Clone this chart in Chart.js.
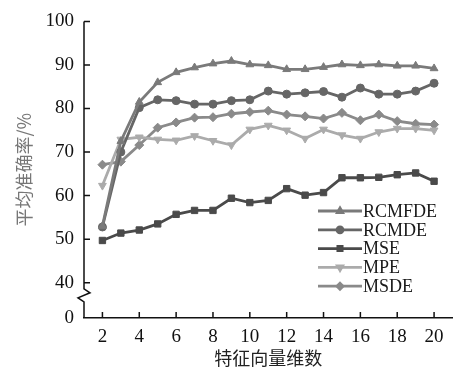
<!DOCTYPE html>
<html>
<head>
<meta charset="utf-8">
<script src="https://cdn.jsdelivr.net/npm/chart.js@4/dist/chart.umd.min.js"></script>
<style>
  html, body { margin: 0; padding: 0; background: #fff; }
  #wrap { width: 458px; height: 374px; }
</style>
</head>
<body>
<div id="wrap"><canvas id="myChart" width="458" height="374"></canvas></div>
<script>
// feature vector dimensions
const dims = [2, 3, 4, 5, 6, 7, 8, 9, 10, 11, 12, 13, 14, 15, 16, 17, 18, 19, 20];

const rcmfde = [53.0, 72.5, 81.5, 86.0, 88.3, 89.4, 90.3, 90.9, 90.1, 89.9, 89.0, 89.0, 89.5, 90.1, 89.9, 90.1, 89.8, 89.8, 89.2];
const rcmde  = [52.8, 70.0, 80.2, 82.0, 81.8, 81.0, 81.0, 81.8, 82.0, 84.0, 83.3, 83.6, 83.9, 82.6, 84.7, 83.3, 83.3, 84.0, 85.8];
const mse    = [49.7, 51.4, 52.1, 53.5, 55.7, 56.6, 56.6, 59.4, 58.4, 58.9, 61.6, 60.1, 60.7, 64.1, 64.1, 64.2, 64.8, 65.2, 63.3];
const mpe    = [62.3, 72.9, 73.4, 72.9, 72.7, 73.7, 72.6, 71.6, 75.2, 76.1, 75.0, 73.1, 75.2, 73.9, 73.1, 74.6, 75.4, 75.4, 75.0];
const msde   = [67.1, 67.8, 71.6, 75.6, 76.8, 77.9, 78.0, 78.8, 79.2, 79.5, 78.6, 78.2, 77.7, 79.0, 77.3, 78.6, 77.1, 76.5, 76.3];

const yTickValues = [40, 50, 60, 70, 80, 90, 100];
const xTickValues = [2, 4, 6, 8, 10, 12, 14, 16, 18, 20];
const yBottom = 31.9;  // shown as "0" below the axis break

function pts(arr) {
  return arr.map((v, i) => ({ x: dims[i], y: v }));
}

function ds(label, arr, color, style, rot) {
  return {
    label: label,
    data: pts(arr),
    borderColor: color,
    backgroundColor: color,
    borderWidth: 2.8,
    pointStyle: style,
    pointRotation: rot || 0,
    pointRadius: style === 'circle' ? 4 : 4.5,
    pointBorderWidth: 1,
    tension: 0
  };
}

const serif = "'Liberation Serif', 'DejaVu Serif', serif";
const cjk = "'Noto Sans CJK SC', sans-serif";

// axis break, inner ticks and the legend
const extras = {
  id: 'extras',
  afterDraw(chart) {
    const ctx = chart.ctx;
    const xs = chart.scales.x, ys = chart.scales.y;
    const left = chart.chartArea.left;
    const bottom = chart.chartArea.bottom;
    ctx.save();
    ctx.strokeStyle = '#111';
    ctx.lineWidth = 1.5;

    // y axis with zigzag break
    const yTop = ys.getPixelForValue(100);
    const brk = ys.getPixelForValue(37);
    ctx.beginPath();
    ctx.moveTo(left, yTop);
    ctx.lineTo(left, brk - 7);
    ctx.lineTo(left + 6, brk - 3);
    ctx.lineTo(left - 6, brk + 2);
    ctx.lineTo(left, brk + 6);
    ctx.lineTo(left, bottom);
    ctx.stroke();

    // inner tick marks
    ctx.beginPath();
    yTickValues.forEach(v => {
      const p = ys.getPixelForValue(v);
      ctx.moveTo(left, p);
      ctx.lineTo(left + 6, p);
    });
    xTickValues.forEach(v => {
      const p = xs.getPixelForValue(v);
      ctx.moveTo(p, bottom);
      ctx.lineTo(p, bottom - 6);
    });
    ctx.stroke();

    // legend
    const lx = 318, ly = 211, step = 18.8;
    chart.data.datasets.forEach((d, i) => {
      const y = ly + i * step;
      ctx.strokeStyle = d.borderColor;
      ctx.lineWidth = 2.8;
      ctx.beginPath();
      ctx.moveTo(lx, y);
      ctx.lineTo(lx + 44, y);
      ctx.stroke();
      Chart.helpers.drawPoint(ctx, {
        pointStyle: d.pointStyle, rotation: d.pointRotation, radius: 3, borderWidth: 1
      }, lx + 22, y);
      ctx.fillStyle = d.borderColor;
      ctx.fill();
      ctx.fillStyle = '#1a1a1a';
      ctx.font = '18px ' + serif;
      ctx.textBaseline = 'middle';
      ctx.textAlign = 'left';
      ctx.fillText(d.label, lx + 45, y + 1);
    });
    ctx.restore();
  }
};

new Chart('myChart', {
  type: 'line',
  data: {
    datasets: [
      ds('RCMFDE', rcmfde, '#7a7a7a', 'triangle'),
      ds('RCMDE', rcmde, '#666666', 'circle'),
      ds('MSE', mse, '#4a4a4a', 'rect'),
      ds('MPE', mpe, '#ababab', 'triangle', 180),
      ds('MSDE', msde, '#8a8a8a', 'rectRot')
    ]
  },
  plugins: [extras],
  options: {
    responsive: false,
    animation: false,
    layout: { padding: { top: 12, right: 0, bottom: 0, left: 0 } },
    plugins: {
      legend: { display: false },
      tooltip: { enabled: false }
    },
    scales: {
      x: {
        type: 'linear',
        min: 1,
        max: 21,
        afterBuildTicks: (scale) => { scale.ticks = xTickValues.map(v => ({ value: v })); },
        afterFit: (scale) => { scale.height = 56; },
        grid: { drawOnChartArea: false, drawTicks: false },
        border: { color: '#111', width: 1.5 },
        ticks: { color: '#111', font: { family: serif, size: 19 }, padding: 8, maxRotation: 0 },
        title: {
          display: true,
          text: '特征向量维数',
          color: '#222',
          font: { family: cjk, size: 18 },
          padding: { top: 0, bottom: 5 }
        }
      },
      y: {
        type: 'linear',
        min: yBottom,
        max: 100,
        afterBuildTicks: (scale) => {
          scale.ticks = [yBottom].concat(yTickValues).map(v => ({ value: v }));
        },
        afterFit: (scale) => { scale.width = 84; },
        grid: { drawOnChartArea: false, drawTicks: false },
        border: { display: false },
        ticks: {
          color: '#111',
          font: { family: serif, size: 19 },
          padding: 10,
          callback: (v) => (v === yBottom ? '0' : v)
        },
        title: {
          display: true,
          text: '平均准确率/%',
          color: '#777',
          font: { family: cjk, size: 18 },
          padding: { top: 13, bottom: 0 }
        }
      }
    }
  }
});
</script>
</body>
</html>
